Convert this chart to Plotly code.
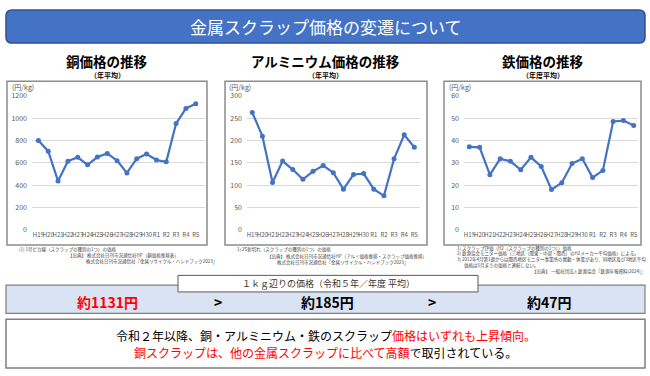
import plotly.graph_objects as go

categories = ["H19", "H20", "H21", "H22", "H23", "H24", "H25", "H26", "H27",
              "H28", "H29", "H30", "R1", "R2", "R3", "R4", "R5"]
copper = [800, 705, 437, 615, 650, 583, 652, 685, 620, 510, 638, 679, 626, 609, 953, 1089, 1131]
aluminum = [263, 210, 106, 154, 135, 113, 131, 144, 128, 91, 124, 126, 91, 76, 159, 213, 185]
iron = [37.2, 37.0, 24.7, 31.8, 30.7, 26.9, 32.5, 28.4, 18.0, 21.1, 29.7, 31.9, 23.4, 26.6, 48.6, 49.0, 46.8]

W, H = 650, 376
FONT = "Noto Sans CJK JP"
BLUE = "#4472C4"


def fx(x):
    return x / W


def fy(y):
    return 1 - y / H


fig = go.Figure()

series = [copper, aluminum, iron]
for i, s in enumerate(series):
    sfx = "" if i == 0 else str(i + 1)
    fig.add_trace(go.Scatter(
        x=categories, y=s, mode="lines+markers",
        line=dict(color=BLUE, width=2.2),
        marker=dict(color=BLUE, size=5),
        xaxis="x" + sfx, yaxis="y" + sfx, showlegend=False, hoverinfo="skip"))

panels = [
    dict(x0=32, x1=205, xr=[-0.65, 16.94], yr=[0, 1200], dt=200, frame=(7, 78, 207, 246)),
    dict(x0=247, x1=420, xr=[-0.52, 16.56], yr=[0, 300], dt=50, frame=(225, 78, 427, 246)),
    dict(x0=464, x1=638, xr=[-0.52, 16.42], yr=[0, 60], dt=10, frame=(444, 78, 641, 246)),
]
ytop, ybot = 93, 230.3

layout = dict(
    width=W, height=H, margin=dict(l=0, r=0, t=0, b=0),
    paper_bgcolor="white", plot_bgcolor="rgba(0,0,0,0)",
    font=dict(family=FONT, color="#000"),
)
for i, p in enumerate(panels):
    sfx = "" if i == 0 else str(i + 1)
    layout["xaxis" + sfx] = dict(
        domain=[fx(p["x0"]), fx(p["x1"])], anchor="y" + sfx,
        type="category", range=p["xr"], tickmode="array",
        tickvals=categories, ticktext=categories, tickangle=0,
        tickfont=dict(size=6, color="#595959", family=FONT),
        showgrid=False, showline=False, zeroline=False, ticks="",
        fixedrange=True)
    layout["yaxis" + sfx] = dict(
        domain=[fy(ybot), fy(ytop)], anchor="x" + sfx,
        range=[p["yr"][0] - (p["yr"][1] * 0.0005), p["yr"][1] * 1.002],
        dtick=p["dt"], tick0=0,
        tickfont=dict(size=7, color="#595959", family=FONT),
        gridcolor="#D9D9D9", gridwidth=1, zeroline=False, showline=False,
        ticks="", ticklabelstandoff=4, fixedrange=True)

shapes = []
r = 6
hx0, hy0, hx1, hy1 = 6, 5, 645, 39
path = (f"M {fx(hx0 + r)} {fy(hy0)} L {fx(hx1 - r)} {fy(hy0)} "
        f"Q {fx(hx1)} {fy(hy0)} {fx(hx1)} {fy(hy0 + r)} "
        f"L {fx(hx1)} {fy(hy1 - r)} Q {fx(hx1)} {fy(hy1)} {fx(hx1 - r)} {fy(hy1)} "
        f"L {fx(hx0 + r)} {fy(hy1)} Q {fx(hx0)} {fy(hy1)} {fx(hx0)} {fy(hy1 - r)} "
        f"L {fx(hx0)} {fy(hy0 + r)} Q {fx(hx0)} {fy(hy0)} {fx(hx0 + r)} {fy(hy0)} Z")
shapes.append(dict(type="path", xref="paper", yref="paper", path=path,
                   fillcolor=BLUE, line=dict(color="#2F528F", width=1.5), layer="below"))

for p in panels:
    x0, y0, x1, y1 = p["frame"]
    shapes.append(dict(type="rect", xref="paper", yref="paper",
                       x0=fx(x0), x1=fx(x1), y0=fy(y1), y1=fy(y0),
                       fillcolor="white", line=dict(color="#8C8C8C", width=1.5), layer="below"))

shapes.append(dict(type="rect", xref="paper", yref="paper",
                   x0=fx(6), x1=fx(645), y0=fy(316), y1=fy(287),
                   fillcolor="#DAE3F3", line=dict(color="#7F7F7F", width=1.2), layer="below"))
shapes.append(dict(type="rect", xref="paper", yref="paper",
                   x0=fx(178), x1=fx(478), y0=fy(294), y1=fy(277),
                   fillcolor="white", line=dict(color="#595959", width=1), layer="below"))
shapes.append(dict(type="rect", xref="paper", yref="paper",
                   x0=fx(6), x1=fx(645), y0=fy(372), y1=fy(322),
                   fillcolor="white", line=dict(color="#7F7F7F", width=1.5), layer="below"))

ann = []


def text(x, y, s, size, color="#000", anchor="center", bold=False, align="center"):
    if bold:
        s = "<b>" + s + "</b>"
    ann.append(dict(x=fx(x), y=fy(y), xref="paper", yref="paper", text=s,
                    showarrow=False, xanchor=anchor, yanchor="middle", align=align,
                    font=dict(size=size, color=color, family=FONT)))


text(325.5, 22, "金属スクラップ価格の変遷について", 17, "white")

titles = [("銅価格の推移", "（年平均）", 107), ("アルミニウム価格の推移", "（年平均）", 326),
          ("鉄価格の推移", "（年度平均）", 542.5)]
for t, sub, cx in titles:
    text(cx, 57, t, 13.5, bold=True)
    text(cx, 71.5, sub, 7, bold=True)

for x in [10, 227, 447]:
    text(x, 84, "(円/kg)", 7, "#595959", anchor="left")

NOTE = "#404040"
text(17, 250, "(1) 1号ピカ線（スクラップの種別の1つ）の価格", 4.5, NOTE, anchor="left")
text(66, 257, "【出典】 株式会社日刊市況通信社HP（銅価格推移表）", 4.5, NOTE, anchor="left")
text(66, 263, "　　　　株式会社日刊市況通信社『金属リサイクル・ハンドブック2023』", 4.5, NOTE, anchor="left")

text(235, 251, "1) 2S新切れ（スクラップの種別の1つ）の価格", 4.5, NOTE, anchor="left")
text(265, 258, "【出典】 株式会社日刊市況通信社HP（アルミ価格推移・スクラップ価格推移）", 4.5, NOTE, anchor="left")
text(275, 264, "株式会社日刊市況通信社『金属リサイクル・ハンドブック2023』", 4.5, NOTE, anchor="left")

text(455, 249, "1) スクラップ評価（H2（スクラップの種別の1つ））価格", 4.5, NOTE, anchor="left")
text(455, 255, "2) 鉄源協会モニター価格（三地区（関東・中部・関西）のH2メーカー平均価格）による。", 4.5, NOTE, anchor="left")
text(455, 261, "3) 2012年4月第1週からは関西地区モニター事業所の異動・休業があり、同地区及び3地区平均", 4.5, NOTE, anchor="left")
text(462, 266.5, "価格は5月までの価格と連続しない。", 4.5, NOTE, anchor="left")
text(530, 273, "【出典】 一般社団法人鉄源協会『鉄源年報資料(2024)』", 4.5, NOTE, anchor="left")

text(328, 285.5, "１ｋｇ辺りの価格（令和５年／年度 平均）", 9, "#333333")

text(107, 304, "約1131円", 14, "#FF0000", bold=True)
text(218, 304, "&gt;", 14, bold=True)
text(327, 304, "約185円", 14, bold=True)
text(432, 304, "&gt;", 14, bold=True)
text(549, 304, "約47円", 14, bold=True)

text(326, 339, "令和２年以降、銅・アルミニウム・鉄のスクラップ<span style='color:#FF0000'>価格はいずれも上昇傾向。</span>", 12)
text(326, 356, "<span style='color:#FF0000'>銅スクラップは、他の金属スクラップに比べて高額</span>で取引されている。", 12)

layout["shapes"] = shapes
layout["annotations"] = ann
fig.update_layout(**layout)
fig.write_html("out.html", config={"displayModeBar": False},
               post_script="document.body.style.margin='0';document.body.style.padding='0';"
                           "document.body.style.overflow='hidden';")
